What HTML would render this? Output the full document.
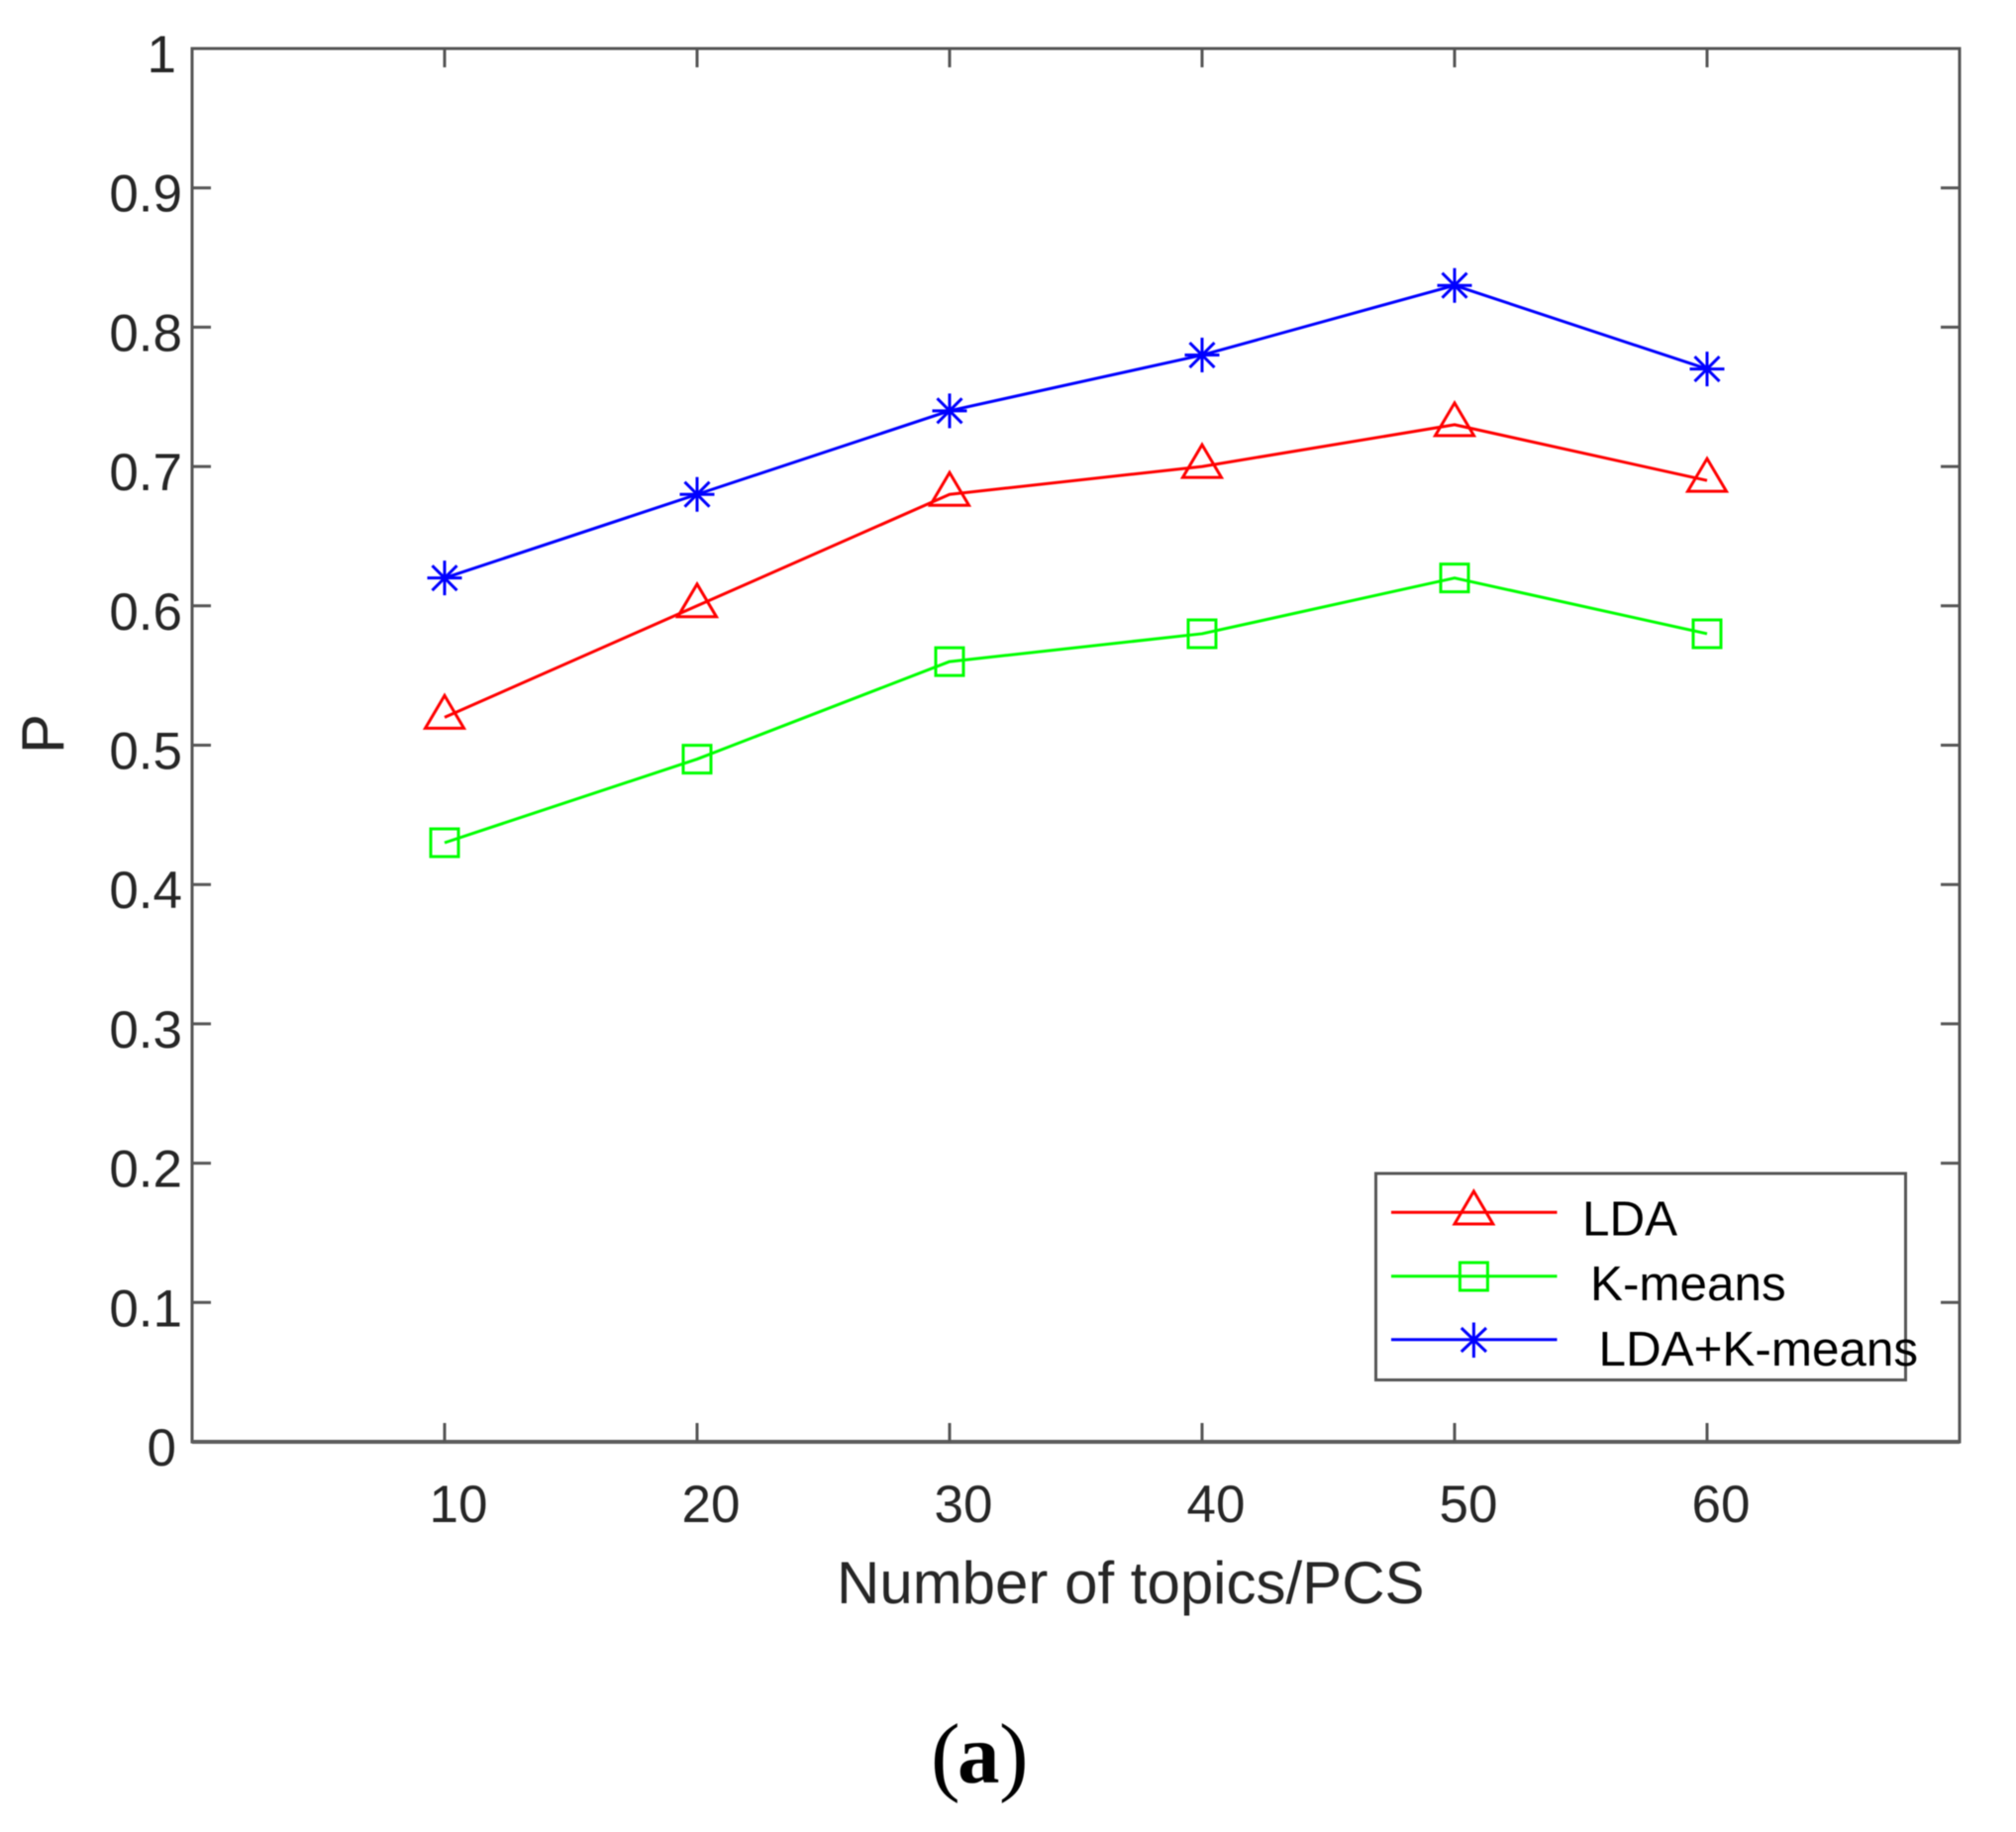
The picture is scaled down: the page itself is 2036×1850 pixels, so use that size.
<!DOCTYPE html>
<html lang="en">
<head>
<meta charset="utf-8">
<title>P vs number of topics/PCS</title>
<style>
html,body{margin:0;padding:0;background:#fff;}
svg{display:block;filter:blur(0.45px);}
text{font-family:"Liberation Sans",Arial,sans-serif;}
</style>
</head>
<body>
<svg id="chart" xmlns="http://www.w3.org/2000/svg" width="2036" height="1850" viewBox="0 0 2036 1850">
  <rect x="0" y="0" width="2036" height="1850" fill="#ffffff"/>
  <g id="axes-layer"></g>
  <g id="series-layer"></g>
  <text x="845" y="1619" font-size="60" fill="#262626">Number of topics/PCS</text>
  <text transform="translate(64 761) rotate(-90)" font-size="60" fill="#262626">P</text>
  <g>
    <rect x="1389.5" y="1185" width="535" height="208.5" fill="#ffffff" stroke="#555555" stroke-width="3"/>
    <g>
      <line x1="1405" y1="1224.3" x2="1572.5" y2="1224.3" stroke="#ff0000" stroke-width="3"/>
      <path d="M1488.4 1203 L1507.8 1236 L1469 1236 Z" fill="none" stroke="#ff0000" stroke-width="3"/>
      <text x="1598" y="1247.7" font-size="49.4" fill="#000000">LDA</text>
    </g>
    <g>
      <line x1="1405" y1="1288.7" x2="1572.5" y2="1288.7" stroke="#00ff00" stroke-width="3"/>
      <rect x="1474.4" y="1275" width="28" height="28" fill="none" stroke="#00ff00" stroke-width="3"/>
      <text x="1606" y="1313" font-size="49.4" fill="#000000">K-means</text>
    </g>
    <g>
      <line x1="1405" y1="1352.7" x2="1572.5" y2="1352.7" stroke="#0000ff" stroke-width="3"/>
      <path d="M1488.4 1335.5 V1371 M1475.8 1341 L1501 1365 M1501 1341 L1475.8 1365" fill="none" stroke="#0000ff" stroke-width="3"/>
      <text x="1614.5" y="1379" font-size="49.4" fill="#000000">LDA+K-means</text>
    </g>
  </g>
  <text y="1802" font-size="89" fill="#000000" style="font-family:'Liberation Serif',serif;"><tspan x="940">(</tspan><tspan x="967" y="1800" font-size="85" font-weight="bold">a</tspan><tspan x="1009" y="1802">)</tspan></text>
</svg>
<script>
var topics = [10, 20, 30, 40, 50, 60];
var ldaValues = [0.52, 0.60, 0.68, 0.70, 0.73, 0.69];
var kmeansValues = [0.43, 0.49, 0.56, 0.58, 0.62, 0.58];
var ldaKmeansValues = [0.62, 0.68, 0.74, 0.78, 0.83, 0.77];
var xTickLabels = ["10", "20", "30", "40", "50", "60"];
var yTickValues = [0, 0.1, 0.2, 0.3, 0.4, 0.5, 0.6, 0.7, 0.8, 0.9, 1];
var yTickLabels = ["0", "0.1", "0.2", "0.3", "0.4", "0.5", "0.6", "0.7", "0.8", "0.9", "1"];

var NS = "http://www.w3.org/2000/svg";
var plot = { left: 194, right: 1979, top: 49, bottom: 1456 };
var xMin = 0, xMax = 70, yMin = 0, yMax = 1;

function xScale(v) {
  return plot.left + (v - xMin) / (xMax - xMin) * (plot.right - plot.left);
}
function yScale(v) {
  return plot.bottom - (v - yMin) / (yMax - yMin) * (plot.bottom - plot.top);
}
function make(tag, attrs, parent) {
  var node = document.createElementNS(NS, tag);
  for (var k in attrs) { node.setAttribute(k, attrs[k]); }
  parent.appendChild(node);
  return node;
}

var axesLayer = document.getElementById("axes-layer");
var seriesLayer = document.getElementById("series-layer");
var axisColor = "#555555";
var tickLen = 19;
var el;

el = make("rect", { x: plot.left, y: plot.top, width: plot.right - plot.left, height: plot.bottom - plot.top, fill: "none", stroke: axisColor, "stroke-width": 3 }, axesLayer);



el = make("line", { x1: plot.left, x2: plot.right, y1: plot.bottom, y2: plot.bottom, stroke: "#5c5c5c", "stroke-width": 4 }, axesLayer);



topics.forEach(function (t, i) {
  var x = xScale(t);
  var el = make("line", { x1: x, x2: x, y1: plot.bottom, y2: plot.bottom - tickLen, stroke: axisColor, "stroke-width": 3 }, axesLayer);
  
  
  el = make("line", { x1: x, x2: x, y1: plot.top, y2: plot.top + tickLen, stroke: axisColor, "stroke-width": 3 }, axesLayer);
  
  
  el = make("text", { x: x + 14, y: 1537, "text-anchor": "middle", "font-size": 53, fill: "#262626" }, axesLayer);
  el.textContent = xTickLabels[i];
  
  
});

yTickValues.forEach(function (v, i) {
  var y = yScale(v);
  var el;
  if (v > yMin && v < yMax) {
    el = make("line", { x1: plot.left, x2: plot.left + tickLen, y1: y, y2: y, stroke: axisColor, "stroke-width": 3 }, axesLayer);
    
    
    el = make("line", { x1: plot.right, x2: plot.right - tickLen, y1: y, y2: y, stroke: axisColor, "stroke-width": 3 }, axesLayer);
    
    
  }
  var anchorX = yTickLabels[i].length > 1 ? 184 : 178;
  el = make("text", { x: anchorX, y: y + 24, "text-anchor": "end", "font-size": 53, fill: "#262626" }, axesLayer);
  el.textContent = yTickLabels[i];
  
  
});

function linePoints(values) {
  return values.map(function (v, i) { return xScale(topics[i]) + "," + yScale(v); }).join(" ");
}
function drawLine(values, color, name) {
  var el = make("polyline", { points: linePoints(values), fill: "none", stroke: color, "stroke-width": 3, "stroke-linejoin": "round" }, seriesLayer);
  
  
}

function triangleMarker(x, y) {
  return "M" + x + " " + (y - 22) + " L" + (x + 19.5) + " " + (y + 11) + " L" + (x - 19.5) + " " + (y + 11) + " Z";
}
function squareMarker(x, y) {
  var h = 14;
  return "M" + (x - h) + " " + (y - h) + " H" + (x + h) + " V" + (y + h) + " H" + (x - h) + " Z";
}
function starMarker(x, y) {
  var h = 17.5, d = 12.5;
  return "M" + x + " " + (y - h) + " V" + (y + h) +
         " M" + (x - h) + " " + y + " H" + (x + h) +
         " M" + (x - d) + " " + (y - d) + " L" + (x + d) + " " + (y + d) +
         " M" + (x + d) + " " + (y - d) + " L" + (x - d) + " " + (y + d);
}
function drawMarkers(values, color, markerFn, name) {
  values.forEach(function (v, i) {
    var el = make("path", { d: markerFn(xScale(topics[i]), yScale(v)), fill: "none", stroke: color, "stroke-width": 3 }, seriesLayer);
    
    
  });
}

drawLine(ldaKmeansValues, "#0000ff", "lda-k-means");
drawLine(ldaValues, "#ff0000", "lda");
drawLine(kmeansValues, "#00ff00", "k-means");
drawMarkers(ldaKmeansValues, "#0000ff", starMarker, "lda-k-means");
drawMarkers(ldaValues, "#ff0000", triangleMarker, "lda");
drawMarkers(kmeansValues, "#00ff00", squareMarker, "k-means");
</script>
</body>
</html>
